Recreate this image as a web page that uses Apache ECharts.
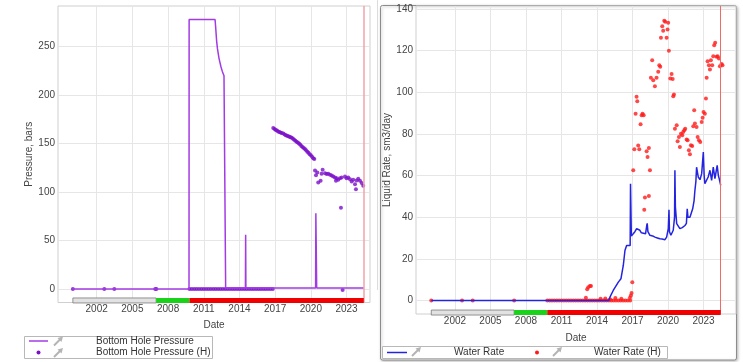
<!DOCTYPE html>
<html>
<head>
<meta charset="utf-8">
<script src="https://cdn.jsdelivr.net/npm/echarts@6/dist/echarts.min.js"></script>
<style>
html, body { margin: 0; padding: 0; background: #fff; }
#chart { width: 743px; height: 362px; }
</style>
</head>
<body>
<div id="chart"></div>
<script>
// tick labels
var yearTicks = [2002, 2005, 2008, 2011, 2014, 2017, 2020, 2023];
var pressureTicks = [0, 50, 100, 150, 200, 250];
var rateTicks = [0, 20, 40, 60, 80, 100, 120, 140];

// well phases (shut / injector / producer) and forecast start
var phaseBounds = [2000, 2007, 2009.8, 2024.45];
var forecastStart = 2024.45;

// Bottom Hole Pressure (simulated), bars
var bhp = [
    [2000, 0], [2009.76, 0], [2009.77, 278], [2011.95, 278], [2012.0, 270], [2012.08, 256],
    [2012.15, 248], [2012.28, 238], [2012.45, 229], [2012.56, 224.5], [2012.7, 220],
    [2012.82, 218.7], [2012.84, 1], [2014.5, 1], [2014.52, 56], [2014.54, 1],
    [2020.4, 1], [2020.42, 78], [2020.47, 78], [2020.49, 1], [2024.45, 1]
];

// Bottom Hole Pressure (H), bars
var bhpHist = [
    [2000.0, 0], [2002.64, 0], [2003.48, 0], [2006.92, 0], [2007.02, 0],
    [2009.8, 0], [2010.0, 0], [2010.2, 0], [2010.4, 0], [2010.6, 0], [2010.8, 0],
    [2011.0, 0], [2011.2, 0], [2011.4, 0], [2011.6, 0], [2011.8, 0], [2012.0, 0],
    [2012.2, 0], [2012.4, 0], [2012.6, 0], [2012.8, 0], [2013.0, 0], [2013.2, 0],
    [2013.4, 0], [2013.6, 0], [2013.8, 0], [2014.0, 0], [2014.2, 0], [2014.4, 0],
    [2014.6, 0], [2014.8, 0], [2015.0, 0], [2015.2, 0], [2015.4, 0], [2015.6, 0],
    [2015.8, 0], [2016.0, 0], [2016.2, 0], [2016.4, 0], [2016.6, 0], [2016.8, 0],
    [2016.84, 166], [2016.95, 165], [2017.05, 164], [2017.15, 163.5], [2017.25, 162.5],
    [2017.35, 162], [2017.45, 161.5], [2017.55, 161], [2017.68, 160.5], [2017.8, 159.5],
    [2017.9, 158.5], [2018.0, 158], [2018.1, 157.5], [2018.2, 157], [2018.3, 156.5],
    [2018.4, 156], [2018.5, 155], [2018.6, 154], [2018.7, 153], [2018.8, 152],
    [2018.9, 151], [2019.0, 150], [2019.1, 149], [2019.2, 147.5], [2019.3, 146.5],
    [2019.4, 145.5], [2019.5, 144.5], [2019.6, 143], [2019.7, 141.5], [2019.8, 140.5],
    [2019.9, 139], [2020.0, 138], [2020.1, 136.5], [2020.2, 135], [2020.29, 134],
    [2020.35, 122.2], [2020.54, 120.1], [2020.43, 117.4], [2020.62, 109.8], [2020.82, 111.6],
    [2020.99, 122.9], [2020.9, 118.8], [2021.19, 119.5], [2021.33, 118.5], [2021.46, 118.8],
    [2021.61, 117.8], [2021.75, 117.1], [2021.88, 116], [2022.03, 115], [2022.17, 114.3],
    [2022.3, 112.6], [2022.45, 114.3], [2022.11, 111.6], [2022.59, 115], [2022.87, 116],
    [2023.0, 114.3], [2023.14, 115], [2023.29, 113.3], [2023.43, 110.8], [2023.56, 112.6],
    [2023.71, 108.1], [2023.85, 111.9], [2023.98, 113.6], [2024.13, 111.6], [2024.27, 109.2],
    [2024.4, 106.4], [2023.79, 103], [2022.53, 83.7], [2022.67, -1]
];

// Water Rate (simulated), sm3/day
var waterRate = [
    [2000, 0], [2015.0, 0], [2015.09, 1.6], [2015.37, 4.8], [2015.8, 8.8], [2016.02, 10.4],
    [2016.22, 16.8], [2016.36, 24], [2016.5, 26.4], [2016.8, 26.4], [2016.83, 56],
    [2016.86, 56], [2016.9, 31], [2017.06, 32], [2017.2, 33], [2017.35, 34.5], [2017.5, 35],
    [2017.62, 33.7], [2017.75, 32.5], [2017.9, 32], [2018.1, 32], [2018.2, 36], [2018.24, 37],
    [2018.3, 33], [2018.47, 31.3], [2018.7, 31], [2018.89, 30.4], [2019.1, 30], [2019.31, 29.6],
    [2019.5, 29.5], [2019.74, 29.2], [2019.88, 30.4], [2020.02, 34.5], [2020.08, 43.5],
    [2020.12, 33], [2020.24, 31.3], [2020.44, 33.7], [2020.55, 40], [2020.58, 62.5],
    [2020.62, 45], [2020.73, 36.9], [2021.0, 34.5], [2021.2, 35], [2021.43, 36], [2021.55, 37],
    [2021.62, 44], [2021.68, 40], [2021.85, 40], [2022.08, 44], [2022.2, 48], [2022.27, 52.9],
    [2022.35, 57], [2022.41, 64], [2022.55, 59.3], [2022.7, 58], [2022.84, 60.9], [2022.93, 60],
    [2022.98, 71.3], [2023.05, 60], [2023.11, 56.1], [2023.25, 57], [2023.39, 59.3],
    [2023.54, 62.5], [2023.68, 57.7], [2023.82, 64], [2023.96, 58.5], [2024.15, 64.9],
    [2024.25, 60], [2024.32, 58.5], [2024.45, 55.3]
];

// Water Rate (H), sm3/day
var waterRateHist = [
    [2000.0, 0], [2002.6, 0], [2003.5, 0], [2007.0, 0],
    [2009.8, 0], [2010.0, 0], [2010.2, 0], [2010.4, 0], [2010.6, 0], [2010.8, 0],
    [2011.0, 0], [2011.2, 0], [2011.4, 0], [2011.6, 0], [2011.8, 0], [2012.0, 0],
    [2012.2, 0], [2012.4, 0], [2012.6, 0], [2012.8, 0], [2013.0, 0], [2013.2, 0],
    [2013.4, 0], [2013.6, 0], [2013.8, 0], [2014.0, 0], [2014.2, 0], [2014.4, 0],
    [2014.6, 0], [2014.8, 0], [2015.0, 0], [2015.2, 0], [2015.4, 0], [2015.6, 0],
    [2015.8, 0], [2016.0, 0], [2016.2, 0], [2016.4, 0], [2016.6, 0], [2016.8, 0],
    [2014.3, 0.8], [2014.7, 1], [2015.1, 0.6], [2015.55, 1.2], [2016.05, 0.8],
    [2013.06, 1.3], [2013.17, 5.4], [2013.26, 6.3], [2013.4, 7], [2013.49, 7],
    [2016.78, 1.3], [2016.86, 2.4], [2016.92, 3.6], [2016.98, 8.8],
    [2017.99, 43.6], [2018.05, 49.4], [2018.38, 50.2],
    [2017.06, 62.5], [2017.15, 72.6], [2017.34, 97.8], [2017.4, 95.7], [2017.26, 89.7],
    [2017.48, 74.4], [2017.57, 72.6], [2017.68, 84.6], [2017.77, 88.9], [2017.85, 89.7],
    [2017.94, 88.9], [2018.19, 71.6], [2018.27, 68.9], [2018.38, 73.2], [2018.47, 62.5],
    [2018.55, 107], [2018.66, 115.4], [2018.75, 105.8], [2018.89, 102.9], [2019.03, 107],
    [2019.17, 109.8], [2019.26, 113], [2019.34, 112.2], [2019.4, 126.1], [2019.51, 131.7],
    [2019.59, 129.5], [2019.68, 134.3], [2019.76, 133.8], [2019.88, 126.1], [2019.96, 130.1],
    [2020.01, 133.3], [2020.07, 119.9], [2020.19, 106.6], [2020.3, 108.7], [2020.39, 106.3],
    [2020.44, 98.1], [2020.5, 98.9], [2020.58, 82.5], [2020.73, 84.1], [2020.81, 76.4],
    [2020.92, 78.5], [2021.0, 73.7], [2021.09, 80.1], [2021.2, 79.3], [2021.28, 80.9],
    [2021.37, 81.7], [2021.45, 82.5], [2021.57, 77.3], [2021.65, 76.9], [2021.76, 72.1],
    [2021.85, 70.2], [2021.93, 74.5], [2022.04, 74.2], [2022.13, 83.7], [2022.21, 91.3],
    [2022.27, 85], [2022.41, 83.3], [2022.5, 78.5], [2022.61, 76.9], [2022.72, 76.1],
    [2022.84, 85.7], [2022.92, 87.7], [2023.0, 90.5], [2023.11, 89.7], [2023.2, 97],
    [2023.26, 106.9], [2023.34, 114.9], [2023.45, 113], [2023.54, 110.9], [2023.62, 115.4],
    [2023.73, 113], [2023.82, 117.3], [2023.9, 122.6], [2023.98, 123.7], [2024.1, 117],
    [2024.19, 117.3], [2024.3, 116.2], [2024.38, 112.5], [2024.52, 113.5], [2024.6, 113]
];

var FONT = '"Liberation Sans", Arial, sans-serif';
var phaseColors = ['#e2e2e2', '#19d219', '#f00000'];

var phases = [];
for (var i = 0; i < phaseBounds.length - 1; i++) {
    phases.push([phaseBounds[i], phaseBounds[i + 1], i]);
}

function phaseRenderer(yVal) {
    return function (params, api) {
        var p0 = api.coord([api.value(0), yVal]);
        var p1 = api.coord([api.value(1), yVal]);
        var idx = api.value(2);
        return {
            type: 'rect',
            shape: { x: p0[0], y: p0[1] - 2.5, width: p1[0] - p0[0], height: 5 },
            style: {
                fill: phaseColors[idx],
                stroke: idx === 0 ? '#7a7a7a' : null,
                lineWidth: 0.8
            }
        };
    };
}

function xAxisOf(grid, min, max, gap) {
    return {
        gridIndex: grid, type: 'value', min: min, max: max,
        axisLine: { show: false },
        axisTick: { show: false, customValues: yearTicks },
        axisLabel: {
            customValues: yearTicks, color: '#444', fontSize: 10, fontFamily: FONT, margin: 2,
            formatter: function (v) { return String(v); }
        },
        splitLine: { show: true, lineStyle: { color: '#e6e6e6', width: 1 } },
        name: 'Date', nameLocation: 'middle', nameGap: gap,
        nameTextStyle: { color: '#444', fontSize: 10, fontFamily: FONT }
    };
}

function yAxisOf(grid, min, max, ticks, name) {
    return {
        gridIndex: grid, type: 'value', min: min, max: max,
        axisLine: { show: false },
        axisTick: { show: false, customValues: ticks },
        axisLabel: { customValues: ticks, color: '#444', fontSize: 10, fontFamily: FONT, margin: 3 },
        splitLine: { show: true, lineStyle: { color: '#e6e6e6', width: 1 } },
        name: name, nameLocation: 'middle', nameGap: 23,
        nameTextStyle: { color: '#444', fontSize: 10, fontFamily: FONT }
    };
}

function arrowIcon(x, y) {
    return {
        type: 'group', x: x, y: y, silent: true,
        children: [
            { type: 'line', shape: { x1: 0, y1: 9, x2: 7, y2: 2 }, style: { stroke: '#b4b4b4', lineWidth: 2 } },
            { type: 'polygon', shape: { points: [[9, 0], [3.5, 1.5], [7.5, 5.5]] }, style: { fill: '#b4b4b4' } }
        ]
    };
}

function legendText(x, y, text) {
    return {
        type: 'text', x: x, y: y, silent: true,
        style: { text: text, fill: '#333', font: '10px ' + FONT, verticalAlign: 'middle' }
    };
}

var chart = echarts.init(document.getElementById('chart'), null, { renderer: 'canvas' });

var option = {
    backgroundColor: '#fff',
    animation: false,
    grid: [
        { left: 58, top: 6, width: 312, height: 296.5, show: true, borderColor: '#cfcfcf', borderWidth: 1, backgroundColor: 'transparent' },
        { left: 416, top: 6, width: 320, height: 308, show: true, borderColor: '#cfcfcf', borderWidth: 1, backgroundColor: 'transparent' }
    ],
    xAxis: [
        xAxisOf(0, 1998.75, 2024.97, 18),
        xAxisOf(1, 1998.71, 2025.74, 19)
    ],
    yAxis: [
        yAxisOf(0, -14, 292, pressureTicks, 'Pressure, bars'),
        yAxisOf(1, -6.5, 141.4, rateTicks, 'Liquid Rate, sm3/day')
    ],
    graphic: [
        { type: 'line', silent: true, shape: { x1: 377.5, y1: 0, x2: 377.5, y2: 290 }, style: { stroke: '#dcdcdc', lineWidth: 1 } },
        { type: 'rect', silent: true, z: -1, shape: { x: 380.5, y: 5.5, width: 356, height: 354.5, r: 2 },
          style: { fill: '#fff', stroke: '#8c8c8c', lineWidth: 1, shadowBlur: 3, shadowColor: 'rgba(0,0,0,0.25)', shadowOffsetX: 1, shadowOffsetY: 1 } },

        // left legend
        { type: 'rect', silent: true, shape: { x: 24.5, y: 336.5, width: 188, height: 22 }, style: { fill: '#fff', stroke: '#b8b8b8', lineWidth: 1 } },
        { type: 'line', silent: true, shape: { x1: 29, y1: 341, x2: 48, y2: 341 }, style: { stroke: '#a23be6', lineWidth: 1.5 } },
        arrowIcon(54, 336.5),
        legendText(96, 341, 'Bottom Hole Pressure'),
        { type: 'circle', silent: true, shape: { cx: 38.5, cy: 352.5, r: 2 }, style: { fill: '#7a10c8' } },
        arrowIcon(54, 348),
        legendText(96, 352.5, 'Bottom Hole Pressure (H)'),

        // right legend
        { type: 'rect', silent: true, shape: { x: 382.5, y: 346.5, width: 285, height: 12 }, style: { fill: '#fff', stroke: '#b8b8b8', lineWidth: 1 } },
        { type: 'line', silent: true, shape: { x1: 387, y1: 352.5, x2: 407, y2: 352.5 }, style: { stroke: '#2424e0', lineWidth: 1.5 } },
        arrowIcon(412, 347),
        legendText(454, 352.5, 'Water Rate'),
        { type: 'circle', silent: true, shape: { cx: 537, cy: 352.5, r: 2 }, style: { fill: '#ff1a1a' } },
        arrowIcon(553, 347),
        legendText(594, 352.5, 'Water Rate (H)')
    ],
    series: [
        {
            name: 'Bottom Hole Pressure', type: 'line', xAxisIndex: 0, yAxisIndex: 0,
            data: bhp, showSymbol: false, silent: true,
            lineStyle: { color: '#a23be6', width: 1.5 },
            markLine: {
                silent: true, symbol: 'none', label: { show: false },
                lineStyle: { color: '#f0a3ab', type: 'solid', width: 1.5 },
                data: [{ xAxis: forecastStart }]
            }
        },
        {
            name: 'Bottom Hole Pressure (H)', type: 'scatter', xAxisIndex: 0, yAxisIndex: 0,
            data: bhpHist, symbolSize: 4, silent: true,
            itemStyle: { color: '#7a10c8' }
        },
        {
            type: 'custom', xAxisIndex: 0, yAxisIndex: 0, silent: true, z: 5,
            renderItem: phaseRenderer(-11.9), data: phases
        },
        {
            name: 'Water Rate', type: 'line', xAxisIndex: 1, yAxisIndex: 1,
            data: waterRate, showSymbol: false, silent: true,
            lineStyle: { color: '#2424e0', width: 1.5 },
            markLine: {
                silent: true, symbol: 'none', label: { show: false },
                lineStyle: { color: '#f06a6a', type: 'solid', width: 1 },
                data: [{ xAxis: forecastStart }]
            }
        },
        {
            name: 'Water Rate (H)', type: 'scatter', xAxisIndex: 1, yAxisIndex: 1,
            data: waterRateHist, symbolSize: 4, silent: true,
            itemStyle: { color: '#ff1a1a' }
        },
        {
            type: 'custom', xAxisIndex: 1, yAxisIndex: 1, silent: true, z: 5,
            renderItem: phaseRenderer(-5.8), data: phases
        }
    ]
};

chart.setOption(option);
</script>
</body>
</html>
